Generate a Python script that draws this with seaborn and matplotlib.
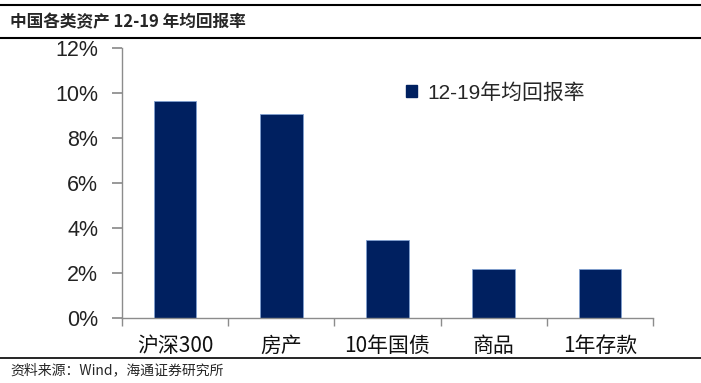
import numpy as np
import pandas as pd
import matplotlib.pyplot as plt
import seaborn as sns
from matplotlib.lines import Line2D
from matplotlib.patches import Patch

sns.set_theme(style="white")
plt.rcParams['font.family'] = ['Liberation Sans', 'Noto Sans CJK SC', 'DejaVu Sans']

# data
categories = ["沪深300", "房产", "10年国债", "商品", "1年存款"]
returns = [0.0964, 0.0907, 0.0347, 0.0218, 0.0218]
series_name = "12-19年均回报率"
yticks = [0, 0.02, 0.04, 0.06, 0.08, 0.10, 0.12]

df = pd.DataFrame({"cat": categories, "val": returns})
bar_color = "#002060"
grey = "#8c8c8c"

fig = plt.figure(figsize=(7.01, 3.83), dpi=100)
ax = fig.add_axes([0.174, 0.1697, 0.7575, 0.705])

sns.barplot(data=df, x="cat", y="val", color=bar_color, width=0.4,
            saturation=1, ax=ax, edgecolor="#7f9fd0", linewidth=0.6)

ax.set_xlim(-0.5, len(categories) - 0.5)
ax.set_ylim(0, 0.12)
ax.set_yticks(yticks)
ax.set_yticklabels([f"{int(round(t * 100))}%" for t in yticks], fontsize=15.5,
                   family=['Liberation Sans'])
ax.set_xticks(range(len(categories)))
ax.set_xticklabels(categories, fontsize=15,
                   family=['Noto Sans CJK SC', 'Liberation Sans'])
ax.set_xlabel("")
ax.set_ylabel("")

for s in ["top", "right"]:
    ax.spines[s].set_visible(False)
for s in ["left", "bottom"]:
    ax.spines[s].set_color(grey)
    ax.spines[s].set_linewidth(1)

ax.tick_params(axis="y", left=True, length=7, color=grey, pad=10, labelcolor="#222222")
ax.tick_params(axis="x", bottom=False, pad=6, labelcolor="#111111")
# category boundary ticks on x
ax.set_xticks(np.arange(-0.5, len(categories) - 0.5 + 1e-9, 1.0), minor=True)
ax.tick_params(axis="x", which="minor", bottom=True, length=6, color=grey)

handles = [Patch(facecolor=bar_color, edgecolor=bar_color, label=series_name)]
ax.legend(handles=handles, loc="upper left", bbox_to_anchor=(0.5, 0.94),
          frameon=False, handlelength=0.5, handleheight=0.5, handletextpad=0.5,
          prop={'family': ['Liberation Sans', 'Noto Sans CJK SC'], 'size': 15})

# frame lines and texts
fig.add_artist(Line2D([0, 1], [1 - 5 / 383, 1 - 5 / 383], color="black", lw=1.5))
fig.add_artist(Line2D([0, 1], [1 - 38 / 383, 1 - 38 / 383], color="black", lw=1.5))
fig.add_artist(Line2D([0, 1], [1 - 358 / 383, 1 - 358 / 383], color="black", lw=1.2))

fig.text(10 / 701, 1 - 22 / 383, "中国各类资产 12-19 年均回报率", fontsize=12,
         fontweight="bold", va="center", ha="left",
         family=['Noto Sans CJK SC', 'Liberation Sans'])
fig.text(10 / 701, 1 - 370 / 383, "资料来源：Wind，海通证券研究所", fontsize=10,
         va="center", ha="left", family=['Noto Sans CJK SC', 'Liberation Sans'])

fig.savefig("out.png", dpi=100)
